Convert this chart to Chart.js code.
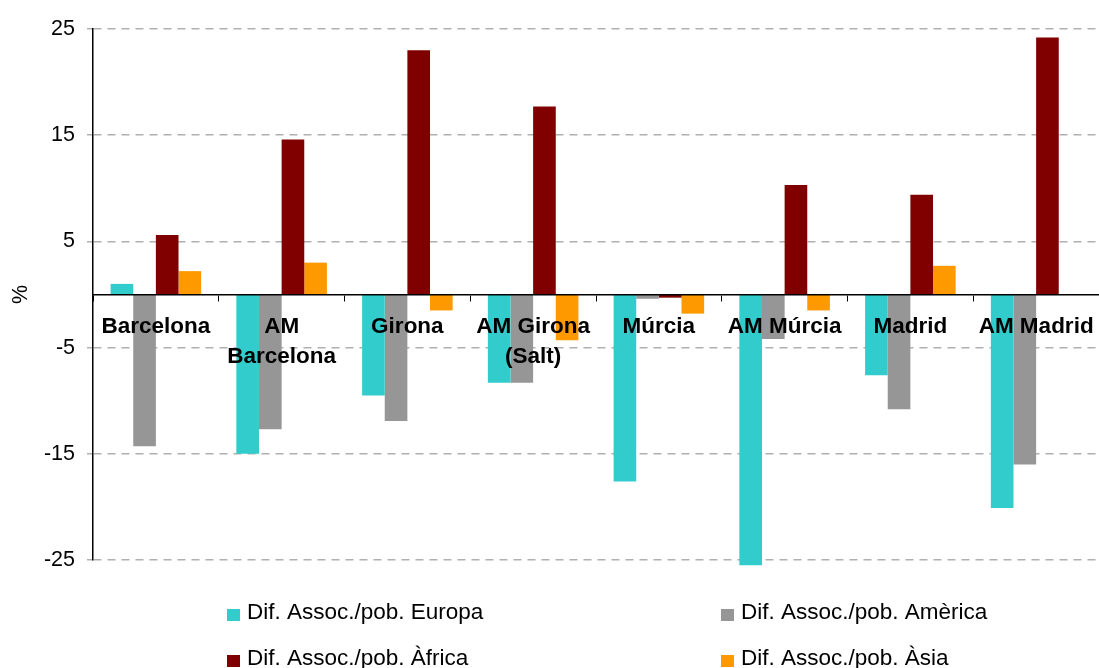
<!DOCTYPE html>
<html>
<head>
<meta charset="utf-8">
<script src="https://cdn.jsdelivr.net/npm/chart.js@4.4.1/dist/chart.umd.min.js"></script>
<style>
  html, body { margin: 0; padding: 0; background: #fff; }
  #wrap { width: 1099px; height: 668px; }
</style>
</head>
<body>
<div id="wrap"><canvas id="chart"></canvas></div>
<script>
const categories = ['Barcelona', ['AM', 'Barcelona'], 'Girona', ['AM Girona', '(Salt)'], 'Múrcia', 'AM Múrcia', 'Madrid', 'AM Madrid'];
const seriesLabels = ['Dif. Assoc./pob. Europa', 'Dif. Assoc./pob. Amèrica', 'Dif. Assoc./pob. Àfrica', 'Dif. Assoc./pob. Àsia'];
const europa = [1.0, -15.0, -9.5, -8.3, -17.6, -25.5, -7.6, -20.1];
const america = [-14.3, -12.7, -11.9, -8.3, -0.4, -4.2, -10.8, -16.0];
const africa = [5.6, 14.6, 23.0, 17.7, -0.3, 10.3, 9.4, 24.2];
const asia = [2.2, 3.0, -1.5, -4.3, -1.8, -1.5, 2.7, 0];
const yTicks = [-25, -15, -5, 5, 15, 25];

const FONT = '"Liberation Sans", Arial, sans-serif';
const colors = ['#33CCCC', '#969696', '#800000', '#FF9900'];

// legend in two fixed columns, like the original
const gridLegend = {
  id: 'gridLegend',
  afterDraw(chart) {
    const ctx = chart.ctx;
    const cols = [227, 721];
    const rows = [619, 665];
    ctx.save();
    ctx.font = '22.5px ' + FONT;
    ctx.textBaseline = 'alphabetic';
    ctx.textAlign = 'left';
    chart.data.datasets.forEach((ds, i) => {
      const x = cols[i % 2];
      const y = rows[Math.floor(i / 2)];
      ctx.fillStyle = ds.backgroundColor;
      ctx.fillRect(x, y - 10, 13, 12);
      ctx.fillStyle = '#000';
      ctx.fillText(ds.label, x + 20, y);
    });
    ctx.restore();
  }
};

function createChart() {
  const series = [europa, america, africa, asia];
  const datasets = series.map((values, i) => {
    return {
      label: seriesLabels[i],
      data: values,
      backgroundColor: colors[i],
      borderWidth: 0,
      categoryPercentage: 0.72,
      barPercentage: 1.0,
      clip: false
    };
  });

  const ctx = document.getElementById('chart').getContext('2d');
  new Chart(ctx, {
    type: 'bar',
    data: {
      labels: categories,
      datasets: datasets
    },
    options: {
      responsive: true,
      maintainAspectRatio: false,
      animation: false,
      layout: {
        padding: { top: 29, bottom: 108, left: 0, right: 0 }
      },
      scales: {
        x: {
          position: { y: 0 },
          afterFit: (scale) => {
            scale.paddingLeft = 0;
            scale.paddingRight = 0;
          },
          grid: {
            drawOnChartArea: false,
            drawTicks: true,
            tickLength: 6,
            color: '#000',
            lineWidth: 1
          },
          border: { display: true, color: '#000', width: 1.5, z: 1 },
          ticks: {
            z: 1,
            autoSkip: false,
            maxRotation: 0,
            minRotation: 0,
            padding: 11,
            color: '#000',
            font: { family: FONT, size: 22.5, weight: 'bold', lineHeight: 1.33 }
          }
        },
        y: {
          min: -25,
          max: 25,
          afterBuildTicks: (scale) => {
            scale.ticks = yTicks.map(v => ({ value: v }));
          },
          afterFit: (scale) => {
            scale.width = 93;
          },
          grid: {
            color: '#b0b0b0',
            lineWidth: 1.5,
            drawTicks: true,
            tickLength: 6
          },
          border: { display: true, color: '#000', width: 1.5, dash: [8, 6] },
          ticks: {
            padding: 12,
            color: '#000',
            font: { family: FONT, size: 21.5 }
          },
          title: {
            display: true,
            text: '%',
            color: '#000',
            padding: 8,
            font: { family: FONT, size: 21.5 }
          }
        }
      },
      plugins: {
        legend: { display: false },
        tooltip: { enabled: false }
      }
    },
    plugins: [gridLegend]
  });
}

document.addEventListener('DOMContentLoaded', createChart);
</script>
</body>
</html>
